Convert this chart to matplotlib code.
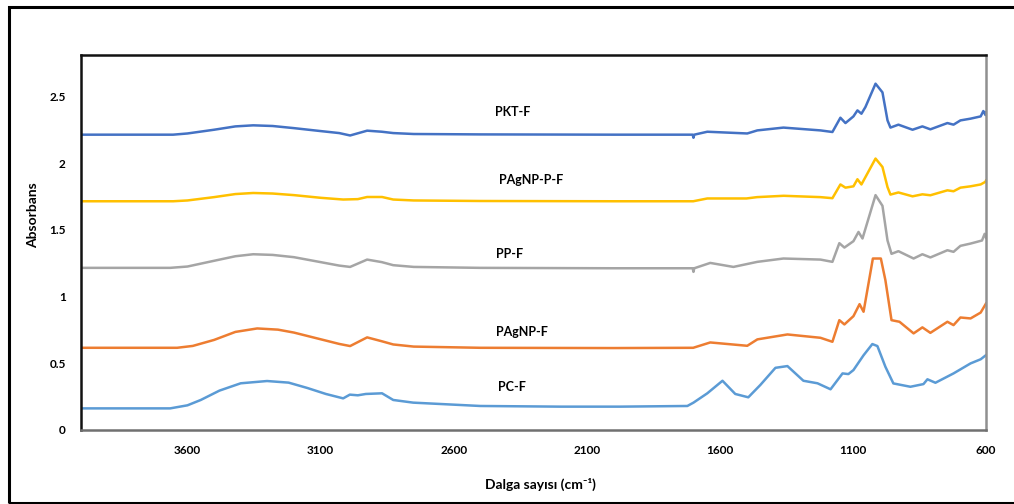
import matplotlib
matplotlib.use("Agg")
import matplotlib.pyplot as plt
from matplotlib.patches import Rectangle

plt.rcParams['font.family'] = ['Lato', 'DejaVu Sans']

# ---- data ----
pkt_x = [4000, 3654, 3600, 3500, 3420, 3353, 3280, 3200, 3100, 3030, 2989, 2925, 2870, 2827, 2750,
         2500, 2000, 1702, 1699, 1696,
         1647, 1497, 1459, 1361, 1222, 1177, 1147, 1128, 1098, 1083, 1068, 1053, 1015, 989,
         970, 959, 929, 876, 839, 809, 745, 722, 696, 658, 620, 610, 602, 600]
pkt_y = [2.213, 2.213, 2.222, 2.250, 2.275, 2.283, 2.278, 2.262, 2.240, 2.225, 2.207, 2.243, 2.235, 2.225, 2.218,
         2.215, 2.213, 2.213, 2.19, 2.213,
         2.235, 2.222, 2.245, 2.266, 2.245, 2.233, 2.34, 2.30, 2.35, 2.395, 2.37, 2.42, 2.595, 2.53,
         2.32, 2.266, 2.288, 2.25, 2.275, 2.253, 2.30, 2.288, 2.32, 2.333, 2.35, 2.39, 2.36, 2.38]

pagnpp_x = [4000, 3654, 3600, 3500, 3420, 3353, 3280, 3200, 3100, 3015, 2960, 2925, 2869, 2827, 2750,
            2500, 2000, 1700,
            1647, 1500, 1460, 1360, 1222, 1177, 1147, 1128, 1098, 1083, 1068, 1015, 989,
            970, 959, 929, 876, 839, 809, 745, 722, 696, 658, 620, 602, 600]
pagnpp_y = [1.714, 1.714, 1.720, 1.745, 1.768, 1.776, 1.772, 1.760, 1.740, 1.727, 1.730, 1.746, 1.746, 1.727, 1.720,
            1.716, 1.714, 1.714,
            1.735, 1.735, 1.745, 1.755, 1.745, 1.737, 1.84, 1.816, 1.826, 1.879, 1.84, 2.034, 1.971,
            1.82, 1.764, 1.78, 1.751, 1.766, 1.759, 1.796, 1.789, 1.816, 1.826, 1.84, 1.86, 1.87]

pp_x = [4000, 3665, 3600, 3500, 3420, 3353, 3280, 3200, 3100, 3030, 2989, 2925, 2870, 2827, 2750,
        2500, 2000, 1702, 1699, 1696,
        1636, 1549, 1459, 1361, 1222, 1177, 1151, 1132, 1098, 1079, 1064, 1015, 989,
        970, 955, 929, 872, 839, 809, 745, 722, 696, 658, 615, 605, 600]
pp_y = [1.215, 1.215, 1.225, 1.268, 1.302, 1.317, 1.312, 1.295, 1.258, 1.232, 1.222, 1.277, 1.258, 1.235, 1.222,
        1.215, 1.212, 1.212, 1.185, 1.212,
        1.252, 1.222, 1.26, 1.285, 1.277, 1.26, 1.40, 1.367, 1.415, 1.484, 1.435, 1.76, 1.68,
        1.42, 1.32, 1.34, 1.285, 1.317, 1.293, 1.347, 1.335, 1.38, 1.397, 1.42, 1.47, 1.44]

pagnp_x = [4000, 3639, 3580, 3500, 3420, 3338, 3260, 3200, 3100, 3030, 2989, 2925, 2870, 2827, 2750,
           2500, 2000, 1700,
           1636, 1497, 1459, 1346, 1222, 1177, 1151, 1132, 1098, 1075, 1060, 1025, 995,
           978, 955, 925, 872, 839, 809, 745, 722, 696, 658, 620, 600]
pagnp_y = [0.616, 0.616, 0.630, 0.675, 0.735, 0.761, 0.752, 0.730, 0.680, 0.645, 0.629, 0.694, 0.665, 0.641, 0.625,
           0.616, 0.614, 0.616,
           0.656, 0.631, 0.679, 0.716, 0.691, 0.661, 0.823, 0.791, 0.853, 0.943, 0.886, 1.285, 1.285,
           1.123, 0.823, 0.811, 0.724, 0.769, 0.728, 0.811, 0.786, 0.843, 0.836, 0.88, 0.948]

pc_x = [4000, 3665, 3600, 3550, 3480, 3400, 3301, 3220, 3150, 3080, 3015, 2990, 2960, 2930, 2869, 2827,
        2752, 2500, 2200, 1974, 1722, 1699, 1647, 1590, 1542, 1493, 1448, 1391, 1346,
        1286, 1233, 1184, 1139, 1117, 1098, 1060, 1027, 1008, 978, 948, 884, 835, 820,
        790, 722, 658, 620, 600]
pc_y = [0.162, 0.162, 0.185, 0.225, 0.295, 0.350, 0.367, 0.355, 0.315, 0.270, 0.237, 0.265, 0.26, 0.27, 0.275, 0.225,
        0.205, 0.18, 0.175, 0.175, 0.18, 0.205, 0.275, 0.369, 0.27, 0.245, 0.337, 0.466, 0.479,
        0.369, 0.35, 0.305, 0.424, 0.419, 0.449, 0.56, 0.644, 0.629, 0.474, 0.349, 0.324, 0.344, 0.38,
        0.354, 0.424, 0.499, 0.53, 0.561]

series_names = ["PKT-F", "PAgNP-P-F", "PP-F", "PAgNP-F", "PC-F"]
label_x = [2380, 2308, 2391, 2342, 2380]
label_y = [2.38, 1.87, 1.317, 0.736, 0.32]
x_ticks = [3600, 3100, 2600, 2100, 1600, 1100, 600]
y_ticks = [0, 0.5, 1, 1.5, 2, 2.5]
y_tick_labels = ["0", "0.5", "1", "1.5", "2", "2.5"]

colors = ["#4472C4", "#FFC000", "#A5A5A5", "#ED7D31", "#5B9BD5"]
xs = [pkt_x, pagnpp_x, pp_x, pagnp_x, pc_x]
ys = [pkt_y, pagnpp_y, pp_y, pagnp_y, pc_y]

fig = plt.figure(figsize=(10.14, 5.04), dpi=100)
ax = fig.add_axes([81/1014, 74/504, 905/1014, 375/504])

for x, y, c in zip(xs, ys, colors):
    ax.plot(x, y, color=c, lw=1.8, solid_joinstyle='round')

for name, lx, ly in zip(series_names, label_x, label_y):
    ax.text(lx, ly, name, ha='center', va='center', fontsize=9, fontweight='bold')

ax.set_xlim(4000, 600)
ax.set_ylim(0, 2.81)
ax.set_xticks(x_ticks)
ax.set_xticklabels([str(t) for t in x_ticks])
ax.set_yticks(y_ticks)
ax.set_yticklabels(y_tick_labels)
ax.tick_params(length=0, labelsize=8.5, pad=11)
for lab in ax.get_xticklabels() + ax.get_yticklabels():
    lab.set_fontweight('bold')

ax.spines['left'].set_color('#111111')
ax.spines['top'].set_color('#111111')
ax.spines['bottom'].set_color('#707070')
ax.spines['right'].set_color('#909090')
for s in ax.spines.values():
    s.set_linewidth(1.8)

fig.text(33/1014, 1 - 215/504, "Absorbans", rotation=90, ha='center', va='center',
         fontsize=10, fontweight='bold')
fig.text(540/1014, 1 - 484/504, "Dalga sayısı (cm⁻¹)", ha='center', va='center',
         fontsize=10, fontweight='bold')

# outer frame
fig.patches.append(Rectangle((9/1014, 1/504), 1100/1014, 496/504, transform=fig.transFigure,
                             fill=False, edgecolor='black', lw=2.2))

fig.savefig("out.png", dpi=100)
